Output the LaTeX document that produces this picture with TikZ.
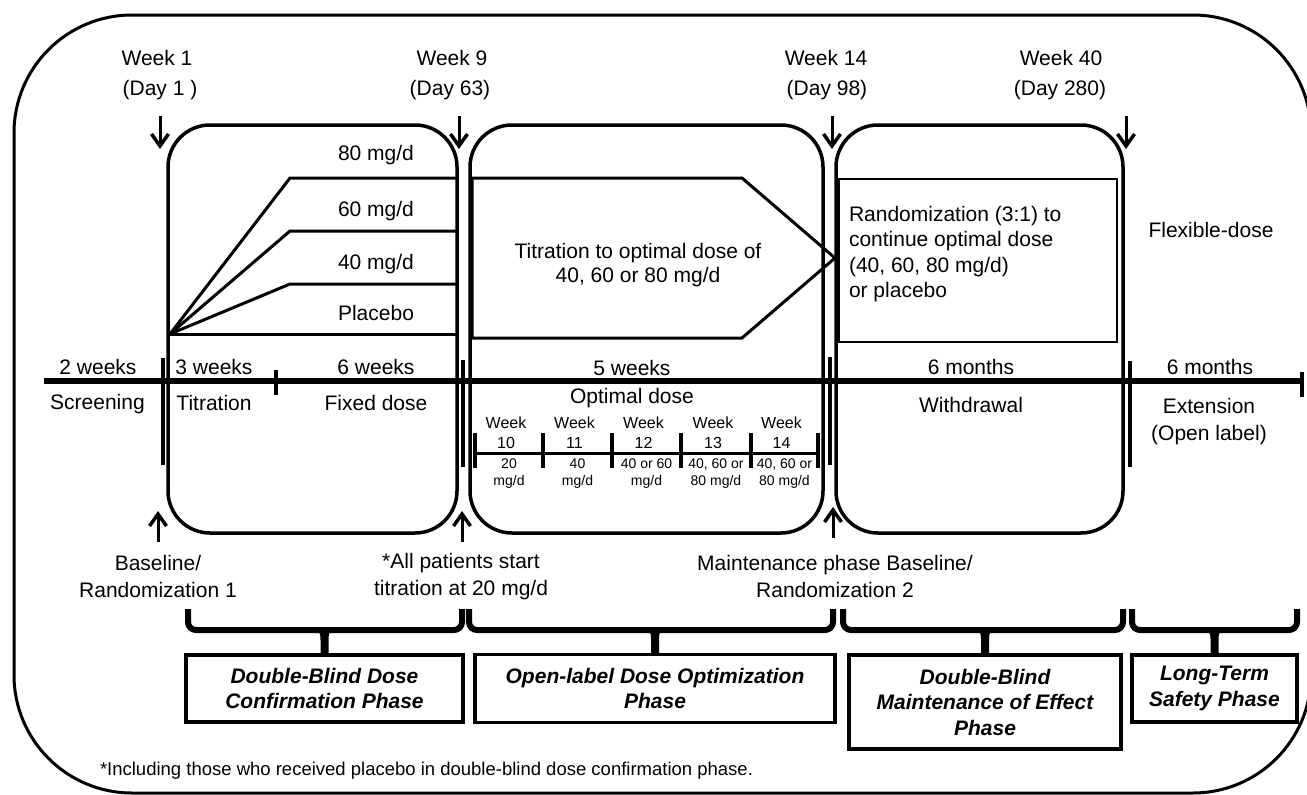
\documentclass[tikz,border=0pt]{standalone}
\usepackage{fontspec}
\setmainfont{Liberation Sans}
\usetikzlibrary{arrows.meta}
\begin{document}
\begin{tikzpicture}[x=1pt,y=-1pt,
  every node/.style={inner sep=0pt, outer sep=0pt},
  lbl/.style={font=\fontsize{21}{27}\selectfont, align=center},
  small/.style={font=\fontsize{16}{18}\selectfont, text height=11.5pt, text depth=0pt},
  tiny/.style={font=\fontsize{14}{17}\selectfont, text height=10pt, text depth=3pt},
  phaselbl/.style={draw, line width=3.5pt, align=center, font=\fontsize{21}{25.5}\selectfont\bfseries\itshape},
  phasebox/.style={draw, line width=3.5pt, rounded corners=42pt},
  arr/.style={line width=3pt, -{Straight Barb[length=12pt, width=17pt, line width=3.5pt]}},
  bar/.style={line width=4.5pt},
  dline/.style={line width=3pt},
  bracepath/.style={line width=6pt, rounded corners=8pt},
]
\useasboundingbox (0,0) rectangle (1307,795);
\clip (0,0) rectangle (1307,795);
\fill[white] (0,0) rectangle (1307,795);
% outer frame
\draw[line width=3pt, rounded corners=118pt] (14,15) rectangle (1311,793);

% phase rounded boxes
\node[phasebox, minimum width=289pt, minimum height=408pt] (box1) at (312.5,329) {};
\node[phasebox, minimum width=353pt, minimum height=408pt] (box2) at (646.5,329) {};
\node[phasebox, minimum width=287pt, minimum height=408pt] (box3) at (979.5,329) {};

% top week labels
\node[lbl] (w1) at (157,58) {Week 1};
\node[lbl] (d1) at (160,90) {(Day 1 )};
\node[lbl] (w9) at (452,58) {Week 9};
\node[lbl] (d9) at (450,90) {(Day 63)};
\node[lbl] (w14) at (826,58) {Week 14};
\node[lbl] (d14) at (827,90) {(Day 98)};
\node[lbl] (w40) at (1061,58) {Week 40};
\node[lbl] (d40) at (1060,90) {(Day 280)};

\coordinate (t1a) at (160,116); \coordinate (t1b) at (160,149);
\coordinate (t9a) at (459,116); \coordinate (t9b) at (459,149);
\coordinate (t14a) at (832,116); \coordinate (t14b) at (832,149);
\coordinate (t40a) at (1126,116); \coordinate (t40b) at (1126,149);
\draw[arr] (t1a) -- (t1b);
\draw[arr] (t9a) -- (t9b);
\draw[arr] (t14a) -- (t14b);
\draw[arr] (t40a) -- (t40b);

% dose lines in box 1
\coordinate (o) at (170,334);
\draw[dline, line join=miter] (o) -- (290,178) -- (457,178);
\draw[dline, line join=miter] (o) -- (290,231) -- (457,231);
\draw[dline, line join=miter] (o) -- (290,284) -- (457,284);
\draw[dline] (o) -- (457,334);
\node[lbl] (d80) at (376,155) {80 mg/d};
\node[lbl] (d60) at (376,211) {60 mg/d};
\node[lbl] (d40l) at (376,264) {40 mg/d};
\node[lbl] (dpl) at (376,313) {Placebo};

% pentagon in box 2
\draw[line width=3pt, line join=miter] (472,178) -- (742,178) -- (835,258) -- (742,338) -- (472,338) -- cycle;
\node[lbl, font=\fontsize{21}{24}\selectfont] (tit) at (638,265) {Titration to optimal dose of\\40, 60 or 80 mg/d};

% rectangle in box 3
\node[draw, line width=2.5pt, minimum width=278pt, minimum height=163pt] (rbox) at (978,260.5) {};
\node[lbl, align=left, anchor=west, font=\fontsize{21}{25.6}\selectfont] (rtext) at (849,254) {Randomization (3:1) to\\continue optimal dose\\(40, 60, 80 mg/d)\\or placebo};
\node[lbl] (flex) at (1211,230) {Flexible-dose};

% main timeline
\draw[line width=5.5pt] (44,381) -- (1302,381);
\draw[line width=4pt] (1302,372) -- (1302,397);
\draw[line width=4pt] (276,370) -- (276,395);
\draw[bar] (163,358) -- (163,465);
\draw[bar] (463,360) -- (463,467);
\draw[bar] (830,357) -- (830,465);
\draw[bar] (1130,361) -- (1130,467);

\node[lbl] (i1) at (98,367) {2 weeks};
\node[lbl] (i2) at (214,367) {3 weeks};
\node[lbl] (i3) at (376,367) {6 weeks};
\node[lbl] (i4) at (632,368) {5 weeks};
\node[lbl] (i5) at (971,367) {6 months};
\node[lbl] (i6) at (1210,367) {6 months};

\node[lbl] (p1) at (97.5,404) {Screening};
\node[lbl] (p2) at (214,403) {Titration};
\node[lbl] (p3) at (376,403) {Fixed dose};
\node[lbl] (p4) at (632,398) {Optimal dose};
\node[lbl] (p5) at (971,405) {Withdrawal};
\node[lbl] (p6) at (1209,421.5) {Extension\\(Open label)};

% sub timeline
\draw[line width=3pt] (475,453) -- (818,453);
\foreach \x in {475,543,612,681,751,818} {
  \draw[line width=4pt] (\x,433) -- (\x,468);
}
\foreach \x/\n/\da/\db in {509/10/20/{mg/d}, 577.5/11/40/{mg/d}, 646.5/12/40 or 60/{mg/d}, 716/13/{40, 60 or}/{80 mg/d}, 784.5/14/{40, 60 or}/{80 mg/d}} {
  \node[small] at (\x-3,423) {Week};
  \node[small] at (\x-3,443) {\n};
  \node[tiny] at (\x,465) {\da};
  \node[tiny] at (\x,482) {\db};
}

% bottom arrows and labels
\coordinate (b1a) at (158,542); \coordinate (b1b) at (158,511);
\coordinate (b9a) at (462,542); \coordinate (b9b) at (462,511);
\coordinate (b14a) at (833,538); \coordinate (b14b) at (833,507);
\draw[arr] (b1a) -- (b1b);
\draw[arr] (b9a) -- (b9b);
\draw[arr] (b14a) -- (b14b);
\node[lbl] (bl1) at (158,576.5) {Baseline/\\Randomization 1};
\node[lbl] (bl2) at (461,576.5) {*All patients start\\titration at 20 mg/d};
\node[lbl] (bl3) at (835,576.5) {Maintenance phase Baseline/\\Randomization 2};

% phase label boxes
\node[phaselbl, minimum width=277pt, minimum height=67pt] (ph1) at (324.5,688.5) {Double-Blind Dose\\Confirmation Phase};
\node[phaselbl, minimum width=360pt, minimum height=68pt] (ph2) at (655,688.5) {Open-label Dose Optimization\\Phase};
\node[phaselbl, minimum width=272pt, minimum height=94pt] (ph3) at (985,702) {Double-Blind\\Maintenance of Effect\\Phase};
\node[phaselbl, minimum width=165pt, minimum height=67pt] (ph4) at (1214.5,688.5) {Long-Term\\Safety Phase};

% braces
\foreach \l/\r/\b in {188/462/ph1, 469/833/ph2, 843/1123/ph3, 1132/1297/ph4} {
  \draw[bracepath] (\l,609) -- (\l,630) -- (\r,630) -- (\r,609);
  \fill (\b.north) ++(-8,-26) .. controls +(4,5) .. ++(4,12) -- ++(0,13) -- ++(8,0) -- ++(0,-13) .. controls +(0,-7) .. ++(4,-12) -- cycle;
}

% footnote
\node[font=\fontsize{18.5}{22}\selectfont, anchor=west] (fn) at (100,771) {*Including those who received placebo in double-blind dose confirmation phase.};
\end{tikzpicture}
\end{document}
